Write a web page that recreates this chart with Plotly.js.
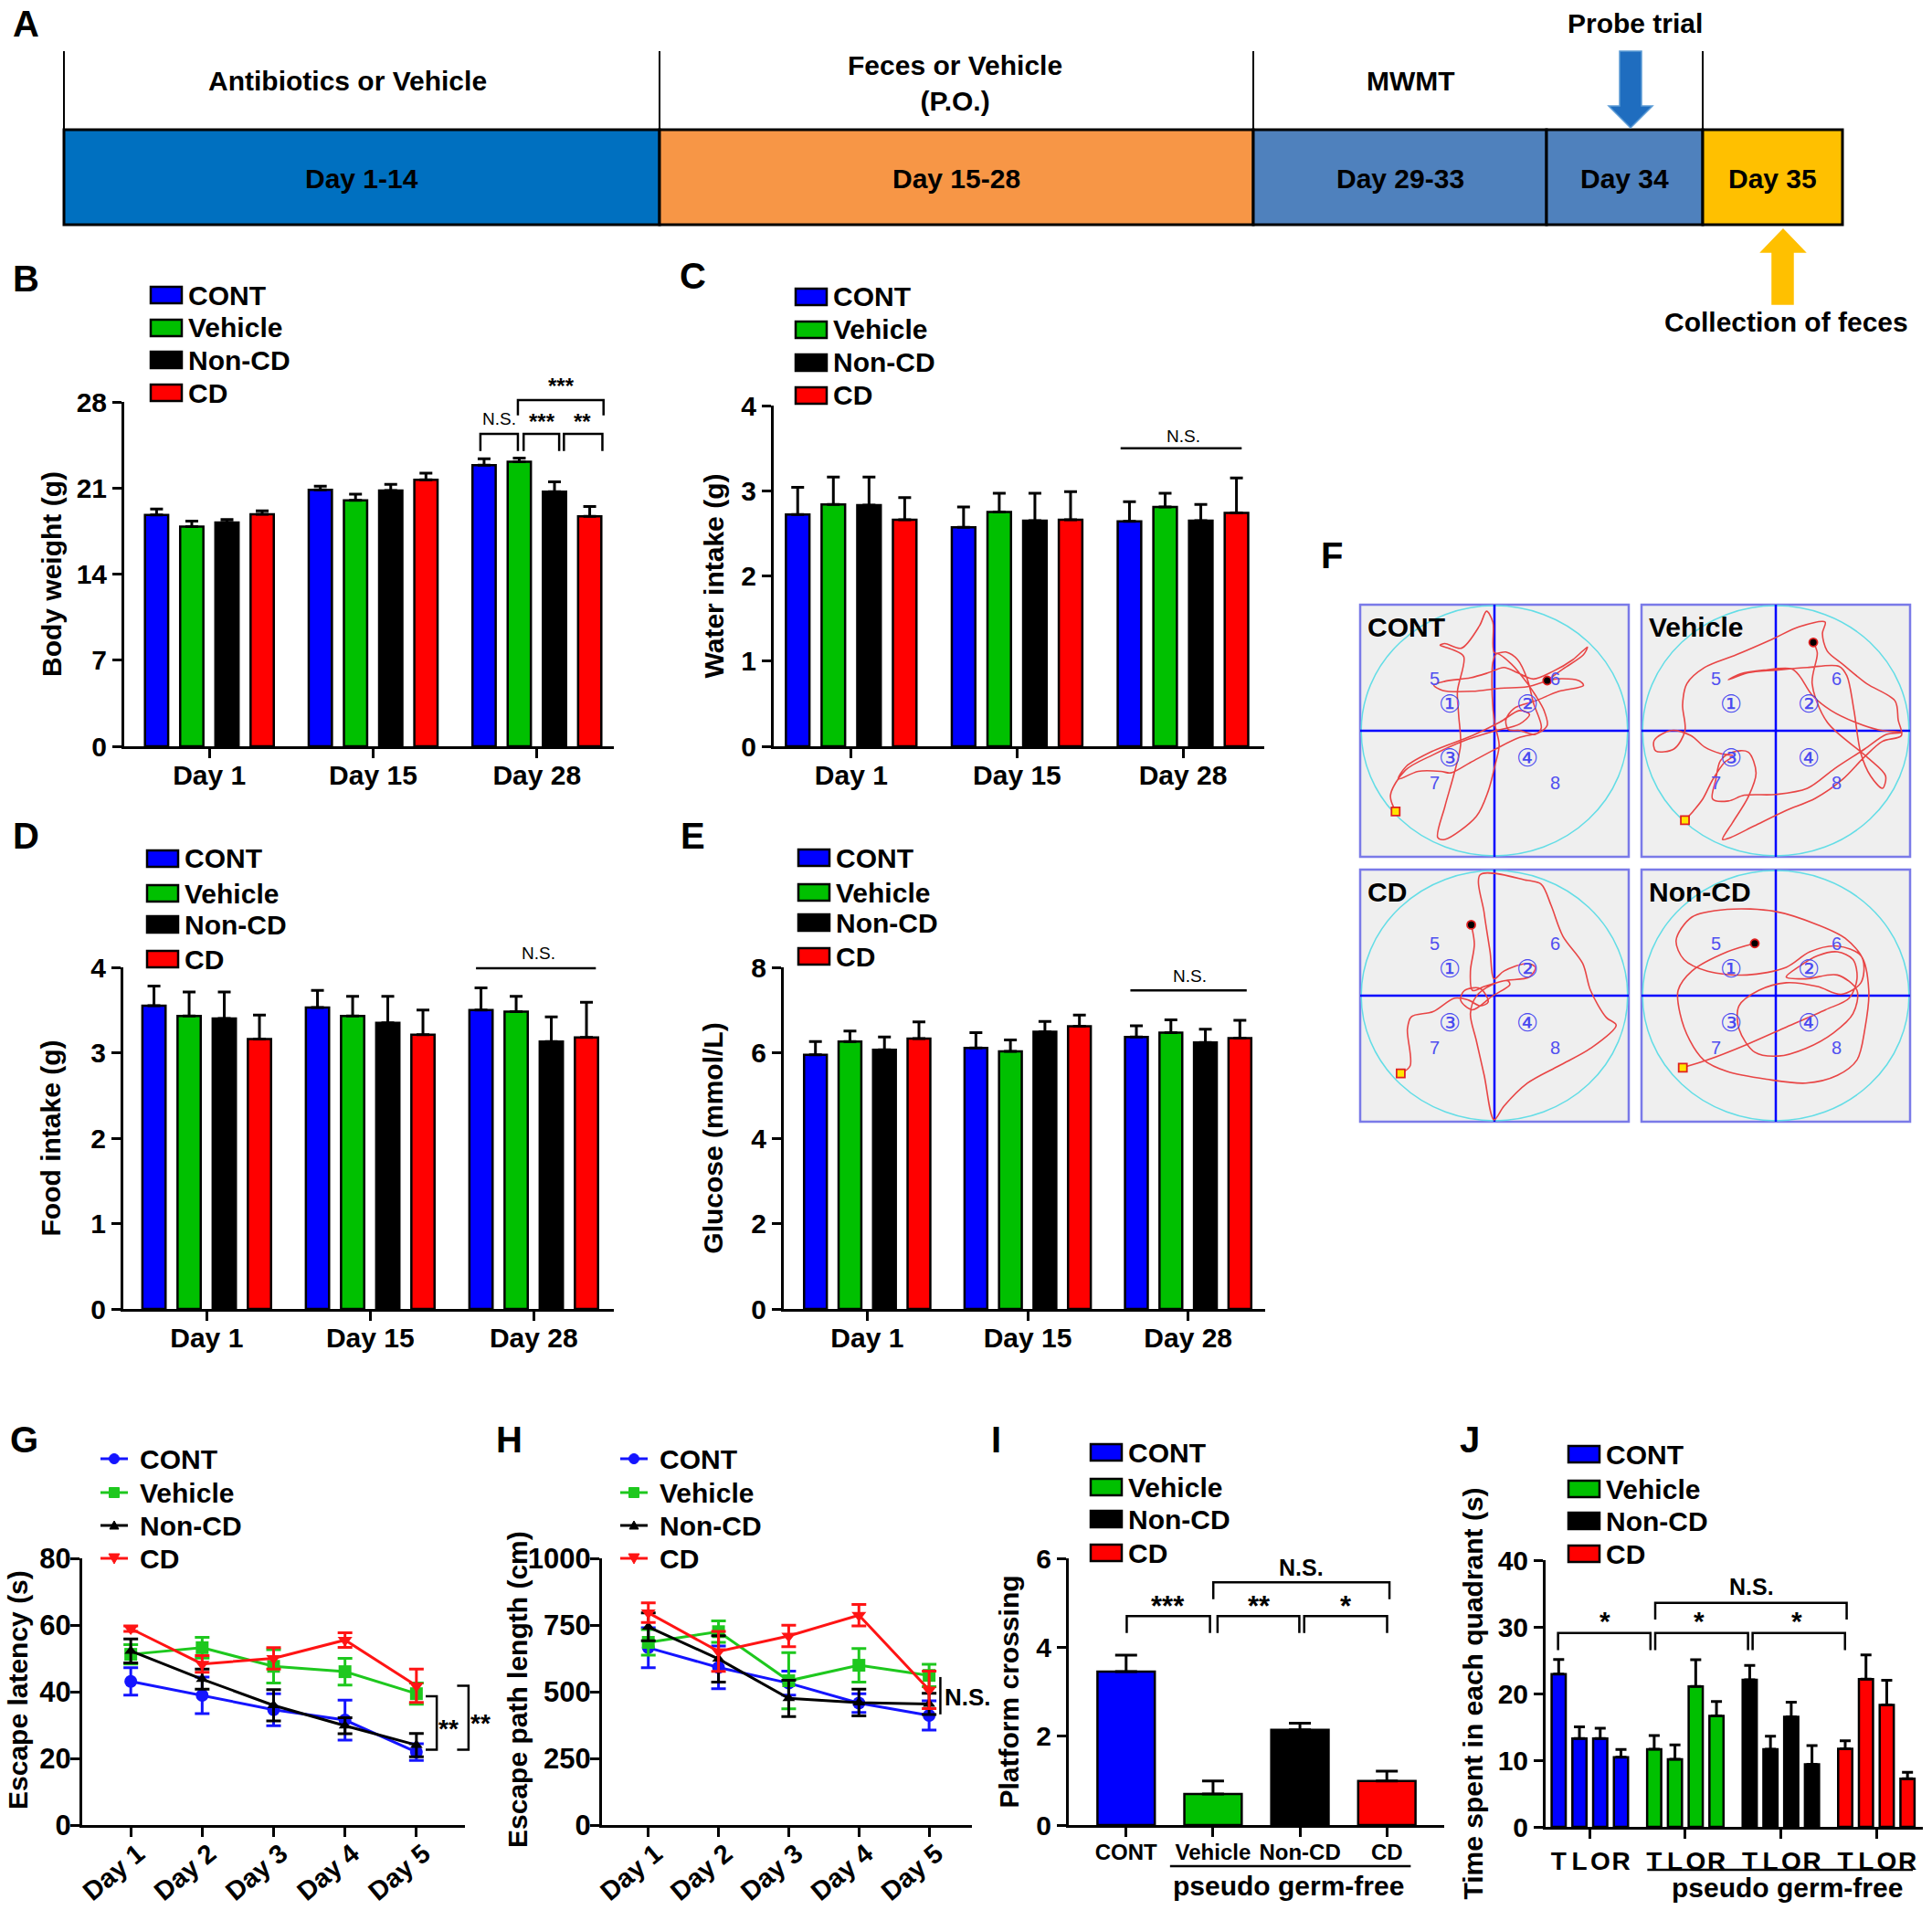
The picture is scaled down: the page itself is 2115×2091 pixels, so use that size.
<!DOCTYPE html>
<html><head><meta charset="utf-8">
<script src="https://cdn.plot.ly/plotly-3.0.1.min.js"></script>
<style>html,body{margin:0;padding:0;background:#fff}#chart{width:2115px;height:2091px}</style>
</head><body><div id="chart"></div>
<script>
// ---------------- DATA ----------------
const groups = ['CONT', 'Vehicle', 'Non-CD', 'CD'];
const days3 = ['Day 1', 'Day 15', 'Day 28'];
const days5 = ['Day 1', 'Day 2', 'Day 3', 'Day 4', 'Day 5'];
const quadrants = ['T', 'L', 'O', 'R'];

// B: body weight (g)
const bwCONT = [18.8, 20.86, 22.86],   bwCONTerr = [0.5, 0.29, 0.52];
const bwVehicle = [17.86, 20.0, 23.14], bwVehicleerr = [0.44, 0.49, 0.29];
const bwNonCD = [18.2, 20.8, 20.7],    bwNonCDerr = [0.23, 0.49, 0.8];
const bwCD = [18.86, 21.66, 18.7],     bwCDerr = [0.29, 0.54, 0.8];
// C: water intake (g)
const wiCONT = [2.72, 2.57, 2.64],    wiCONTerr = [0.32, 0.24, 0.23];
const wiVehicle = [2.84, 2.75, 2.81], wiVehicleerr = [0.32, 0.22, 0.16];
const wiNonCD = [2.83, 2.65, 2.65],   wiNonCDerr = [0.33, 0.32, 0.19];
const wiCD = [2.66, 2.66, 2.74],      wiCDerr = [0.26, 0.33, 0.41];
// D: food intake (g)
const fiCONT = [3.55, 3.53, 3.50],    fiCONTerr = [0.23, 0.20, 0.26];
const fiVehicle = [3.43, 3.43, 3.48], fiVehicleerr = [0.28, 0.23, 0.18];
const fiNonCD = [3.40, 3.35, 3.13],   fiNonCDerr = [0.31, 0.31, 0.29];
const fiCD = [3.16, 3.21, 3.18],      fiCDerr = [0.28, 0.29, 0.41];
// E: glucose (mmol/L)
const glCONT = [5.95, 6.11, 6.37],    glCONTerr = [0.31, 0.36, 0.26];
const glVehicle = [6.26, 6.03, 6.47], glVehicleerr = [0.25, 0.27, 0.30];
const glNonCD = [6.07, 6.49, 6.24],   glNonCDerr = [0.30, 0.24, 0.31];
const glCD = [6.33, 6.62, 6.34],      glCDerr = [0.39, 0.26, 0.42];
// G: escape latency (s)
const elCONT = [43.1, 38.9, 34.6, 31.5, 21.9],    elCONTerr = [4.1, 5.5, 4.8, 6.0, 2.5];
const elVehicle = [51.2, 53.2, 47.6, 46.0, 39.4], elVehicleerr = [2.9, 3.1, 5.0, 4.0, 3.2];
const elNonCD = [52.2, 43.75, 35.9, 29.8, 24.0],  elNonCDerr = [3.6, 3.0, 4.7, 2.4, 3.5];
const elCD = [58.9, 48.3, 50.0, 55.5, 41.8],      elCDerr = [0.8, 2.5, 3.2, 2.2, 5.0];
// H: escape path length (cm)
const plCONT = [665, 591, 532, 457, 411],    plCONTerr = [75, 80, 45, 35, 55];
const plVehicle = [685, 725, 541, 599, 561], plVehicleerr = [48, 40, 105, 63, 42];
const plNonCD = [743, 623, 475, 459, 454],   plNonCDerr = [52, 87, 68, 50, 40];
const plCD = [796, 651, 709, 787, 507],      plCDerr = [37, 75, 40, 40, 70];
// I: platform crossing
const pcVals = [3.45, 0.70, 2.14, 0.99], pcErr = [0.37, 0.29, 0.15, 0.22];
// J: time in each quadrant (s) [T, L, O, R]
const tqCONT = [22.9, 13.25, 13.25, 10.46],   tqCONTerr = [2.2, 1.75, 1.55, 1.14];
const tqVehicle = [11.66, 10.12, 21.06, 16.63], tqVehicleerr = [2.04, 2.18, 4.0, 2.17];
const tqNonCD = [22.07, 11.66, 16.5, 9.4],    tqNonCDerr = [2.13, 1.94, 2.2, 2.8];
const tqCD = [11.7, 22.17, 18.3, 7.23],       tqCDerr = [1.2, 3.63, 3.7, 0.97];

// A: timeline text
const phaseLabels = ['Antibiotics or Vehicle', 'Feces or Vehicle<br>(P.O.)', 'MWMT'];
const stageLabels = ['Day 1-14', 'Day 15-28', 'Day 29-33', 'Day 34', 'Day 35'];

// F: swim tracks (tracking-image coordinates)
const trackCONT = [[205,732],[192,690],[230,625],[300,585],[380,548],[450,525],[520,505],[545,480],[520,470],[470,500],[400,535],[300,575],[232,615],[212,648],[262,628],[320,628],[345,632],[395,605],[455,572],[520,540],[568,528],[590,508],[582,470],[560,430],[540,400],[500,350],[462,322],[452,345],[450,420],[456,500],[468,560],[458,610],[440,680],[410,745],[330,805],[312,800],[330,720],[352,640],[370,560],[365,480],[362,420],[378,330],[350,312],[318,300],[330,296],[372,308],[418,250],[436,212],[452,240],[456,320],[485,318],[515,338],[540,390],[555,450],[575,515],[560,532],[520,522],[492,520],[485,495],[505,465],[560,445],[620,420],[682,405],[672,393],[610,388],[540,408],[470,412],[400,420],[325,418],[302,404],[330,394],[395,385],[440,372],[480,358],[515,372],[555,388],[605,368],[655,338],[692,305],[682,325],[630,362],[590,392]];
const trackVehicle = [[940,755],[962,730],[985,700],[1010,650],[1040,605],[1062,588],[1030,582],[990,565],[955,535],[905,522],[862,548],[866,575],[912,570],[940,522],[934,455],[945,400],[990,358],[1070,325],[1160,285],[1230,252],[1295,240],[1288,270],[1300,315],[1340,350],[1400,400],[1472,445],[1480,495],[1488,535],[1440,550],[1395,590],[1340,648],[1270,698],[1195,730],[1115,770],[1055,800],[1035,805],[1060,762],[1100,695],[1120,632],[1100,578],[1060,578],[1030,600],[1018,650],[1010,700],[1050,705],[1090,690],[1170,688],[1250,672],[1320,620],[1395,570],[1450,532],[1490,527],[1430,520],[1370,500],[1310,470],[1262,430],[1230,380],[1210,362],[1140,365],[1080,375],[1050,390],[1100,372],[1170,365],[1250,358],[1330,355],[1350,380],[1368,470],[1385,580],[1410,640],[1440,672],[1448,640],[1400,590],[1300,500],[1262,400],[1275,320],[1265,293]];
const trackCD = [[218,1415],[242,1395],[235,1300],[245,1268],[300,1255],[355,1220],[390,1225],[420,1240],[440,1230],[420,1195],[380,1200],[370,1225],[400,1250],[450,1215],[495,1185],[490,1175],[450,1185],[410,1215],[395,1260],[410,1330],[430,1420],[455,1535],[480,1500],[540,1440],[620,1395],[700,1350],[765,1290],[740,1270],[700,1200],[680,1130],[630,1060],[600,980],[575,925],[540,915],[420,900],[430,1000],[445,1100],[455,1170],[480,1150],[540,1130],[560,1140],[545,1165],[480,1175],[430,1190],[400,1200],[395,1150],[405,1080],[397,1030]];
const trackNonCD = [[937,1400],[1000,1380],[1100,1340],[1200,1295],[1300,1250],[1360,1220],[1380,1170],[1370,1120],[1330,1100],[1280,1110],[1230,1140],[1200,1165],[1250,1170],[1330,1160],[1380,1200],[1370,1260],[1320,1310],[1250,1350],[1180,1370],[1120,1360],[1080,1300],[1080,1240],[1130,1200],[1200,1180],[1280,1190],[1340,1210],[1390,1180],[1395,1120],[1350,1065],[1280,1030],[1170,995],[1050,990],[960,1010],[920,1070],[940,1120],[1000,1150],[1100,1160],[1200,1140],[1260,1100],[1330,1085],[1390,1110],[1410,1200],[1400,1300],[1380,1380],[1330,1420],[1250,1440],[1150,1430],[1050,1410],[990,1380],[955,1330],[930,1260],[925,1200],[960,1150],[1050,1100],[1120,1078]];

// ---------------- STYLE / LAYOUT ----------------
const W = 2115, H = 2091;
const FONT = 'Liberation Sans, Arial, sans-serif';
const groupColors = ['#0000ff', '#00c000', '#000000', '#ff0000'];
const lineColors = ['#1414ff', '#1ec81e', '#000000', '#ff1414'];
const symbols = ['circle', 'square', 'triangle-up', 'triangle-down'];
const px = x => x / W, py = y => 1 - y / H;
const xd = (a, b) => [a / W, b / W];
const yd = (t, b) => [1 - b / H, 1 - t / H];
const sfx = n => (n === 1 ? '' : String(n));
const frac = (v, r) => (v - r[0]) / (r[1] - r[0]);

const traces = [], shapes = [], annotations = [];
const layout = {
  width: W, height: H, margin: {l: 0, r: 0, t: 0, b: 0},
  paper_bgcolor: '#fff', plot_bgcolor: 'rgba(0,0,0,0)',
  barmode: 'group', bargap: 0.14, bargroupgap: 0.34,
  hovermode: false, showlegend: false,
  font: {family: FONT, color: '#000'},
  shapes, annotations
};

function baseAxis(extra) {
  return Object.assign({
    showline: true, linecolor: '#000', linewidth: 3, ticks: 'outside', ticklen: 10, tickwidth: 3,
    tickcolor: '#000', showgrid: false, zeroline: false, fixedrange: true, tickangle: 0,
    tickfont: {family: FONT, size: 30, color: '#000', weight: 700}
  }, extra);
}
function yTitle(text, standoff) {
  return {text, font: {family: FONT, size: 30, color: '#000', weight: 700}, standoff: standoff};
}
function bracket(n, xr, yr, x0, x1, ytop, yleg, w) {
  const s = sfx(n), a = frac(x0, xr), b = frac(x1, xr), t = frac(ytop, yr), l = frac(yleg, yr);
  shapes.push({type: 'path', xref: 'x' + s + ' domain', yref: 'y' + s + ' domain',
    path: `M${a},${l}L${a},${t}L${b},${t}L${b},${l}`, line: {color: '#000', width: w || 2.5}});
}
function vbracket(n, xr, yr, xin, xout, y0, y1, w) {
  const s = sfx(n), a = frac(xin, xr), b = frac(xout, xr), t = frac(y0, yr), l = frac(y1, yr);
  shapes.push({type: 'path', xref: 'x' + s + ' domain', yref: 'y' + s + ' domain',
    path: `M${a},${t}L${b},${t}L${b},${l}L${a},${l}`, line: {color: '#000', width: w || 2.5}});
}
function segLine(n, xr, yr, x0, y0, x1, y1, w) {
  const s = sfx(n);
  shapes.push({type: 'line', xref: 'x' + s + ' domain', yref: 'y' + s + ' domain',
    x0: frac(x0, xr), x1: frac(x1, xr), y0: frac(y0, yr), y1: frac(y1, yr), line: {color: '#000', width: w || 2.5}});
}
function note(n, xr, yr, x, y, text, size, weight, xanchor) {
  const s = sfx(n);
  annotations.push({xref: 'x' + s + ' domain', yref: 'y' + s + ' domain', x: frac(x, xr), y: frac(y, yr),
    text, showarrow: false, xanchor: xanchor || 'center', yanchor: 'middle',
    font: {family: FONT, size: size, color: '#000', weight: weight || 700}});
}
function paperText(x, y, text, size, weight, xanchor, angle) {
  annotations.push({xref: 'paper', yref: 'paper', x: px(x), y: py(y), text, showarrow: false,
    xanchor: xanchor || 'center', yanchor: 'middle', textangle: angle || 0,
    font: {family: FONT, size, color: '#000', weight: weight || 700}});
}
function swatchLegend(x0, rows) {
  groups.forEach((g, k) => {
    shapes.push({type: 'rect', xref: 'paper', yref: 'paper', x0: px(x0), x1: px(x0 + 34),
      y0: py(rows[k] + 9), y1: py(rows[k] - 9), fillcolor: groupColors[k], line: {color: '#000', width: 2.5}});
    paperText(x0 + 39, rows[k], g, 30, 700, 'left');
  });
}
function lineLegend(x0, rows) {
  groups.forEach((g, k) => {
    const y = rows[k], cx = x0 + 15, c = lineColors[k], r = 5.5;
    shapes.push({type: 'line', xref: 'paper', yref: 'paper', x0: px(x0), x1: px(x0 + 30), y0: py(y), y1: py(y),
      line: {color: c, width: 3}});
    let mk;
    if (k === 0) mk = {type: 'circle', x0: px(cx - r), x1: px(cx + r), y0: py(y + r), y1: py(y - r)};
    else if (k === 1) mk = {type: 'rect', x0: px(cx - r), x1: px(cx + r), y0: py(y + r), y1: py(y - r)};
    else if (k === 2) mk = {type: 'path', path: `M${px(cx - 5)},${py(y + 4)}L${px(cx + 5)},${py(y + 4)}L${px(cx)},${py(y - 5)}Z`};
    else mk = {type: 'path', path: `M${px(cx - 6)},${py(y - 5)}L${px(cx + 6)},${py(y - 5)}L${px(cx)},${py(y + 6)}Z`};
    shapes.push(Object.assign({xref: 'paper', yref: 'paper', fillcolor: c, line: {color: c, width: 1}}, mk));
    paperText(x0 + 41, y, g, 30, 700, 'left');
  });
}

// ---------------- PANEL A: timeline ----------------
(function () {
  const edges = [70, 722, 1372, 1693, 1864, 2017];
  const fills = ['#0070c0', '#f79646', '#4f81bd', '#4f81bd', '#ffc000'];
  const top = 142, bot = 246;
  stageLabels.forEach((lab, i) => {
    shapes.push({type: 'rect', xref: 'paper', yref: 'paper', x0: px(edges[i]), x1: px(edges[i + 1]),
      y0: py(bot), y1: py(top), fillcolor: fills[i], line: {color: '#000', width: 3}});
    paperText((edges[i] + edges[i + 1]) / 2, 195, lab, 30, 700);
  });
  [70, 722, 1372, 1864].forEach(x => shapes.push({type: 'line', xref: 'paper', yref: 'paper',
    x0: px(x), x1: px(x), y0: py(56), y1: py(top), line: {color: '#000', width: 2}}));
  paperText(380, 88, phaseLabels[0], 30, 700);
  paperText(1045, 91, phaseLabels[1], 30, 700);
  paperText(1544, 88, phaseLabels[2], 30, 700);
  paperText(1790, 25, 'Probe trial', 30, 700);
  paperText(1955, 352, 'Collection of feces', 30, 700);
  const arrow = (pts, fill, edge) => shapes.push({type: 'path', xref: 'paper', yref: 'paper',
    path: 'M' + pts.map(p => px(p[0]) + ',' + py(p[1])).join('L') + 'Z', fillcolor: fill, line: {color: edge, width: 1.5}});
  arrow([[1773, 56], [1797, 56], [1797, 116], [1809, 116], [1785, 140], [1761, 116], [1773, 116]], '#1f6dbf', '#5b9bd5');
  arrow([[1940, 333], [1963, 333], [1963, 276], [1976, 276], [1952, 251], [1928, 276], [1940, 276]], '#ffc000', '#ffc000');
})();

// ---------------- PANEL LETTERS ----------------
[['A', 28, 26], ['B', 28, 305], ['C', 758, 302], ['D', 28, 915], ['E', 758, 915], ['F', 1458, 608],
 ['G', 26, 1576], ['H', 557, 1576], ['I', 1090, 1576], ['J', 1609, 1576]].forEach(l => paperText(l[1], l[2], l[0], 40, 700));

// ---------------- PANELS B-E: grouped bars ----------------
const barPanels = [
  {n: 1, xr: [-0.52, 2.47], xpx: [136, 672], ypx: [440, 817], ymax: 28, dtick: 7, title: 'Body weight (g)', so: 8,
   vals: [bwCONT, bwVehicle, bwNonCD, bwCD], errs: [bwCONTerr, bwVehicleerr, bwNonCDerr, bwCDerr], lx: 165, rows: [323, 359, 394, 430]},
  {n: 2, xr: [-0.467, 2.49], xpx: [847, 1384], ypx: [444, 817], ymax: 4, dtick: 1, title: 'Water intake (g)', so: 10,
   vals: [wiCONT, wiVehicle, wiNonCD, wiCD], errs: [wiCONTerr, wiVehicleerr, wiNonCDerr, wiCDerr], lx: 871, rows: [325, 361, 397, 433]},
  {n: 3, xr: [-0.51, 2.49], xpx: [135, 672], ypx: [1059, 1433], ymax: 4, dtick: 1, title: 'Food intake (g)', so: 24,
   vals: [fiCONT, fiVehicle, fiNonCD, fiCD], errs: [fiCONTerr, fiVehicleerr, fiNonCDerr, fiCDerr], lx: 161, rows: [940, 978, 1012, 1050]},
  {n: 4, xr: [-0.52, 2.48], xpx: [858, 1385], ypx: [1059, 1433], ymax: 8, dtick: 2, title: 'Glucose (mmol/L)', so: 22,
   vals: [glCONT, glVehicle, glNonCD, glCD], errs: [glCONTerr, glVehicleerr, glNonCDerr, glCDerr], lx: 874, rows: [939, 977, 1010, 1047]}
];
barPanels.forEach(p => {
  const s = sfx(p.n);
  groups.forEach((g, k) => traces.push({
    type: 'bar', name: g, x: days3, y: p.vals[k], xaxis: 'x' + s, yaxis: 'y' + s, showlegend: false,
    marker: {color: groupColors[k], line: {color: '#000', width: 2.5}},
    error_y: {type: 'data', array: p.errs[k], arrayminus: p.errs[k].map(() => 0), symmetric: false,
      color: '#000', thickness: 3, width: 7}
  }));
  const tv = []; for (let v = 0; v <= p.ymax; v += p.dtick) tv.push(v);
  layout['xaxis' + s] = baseAxis({type: 'category', domain: xd(p.xpx[0], p.xpx[1]), range: p.xr, anchor: 'y' + s,
    ticklabelstandoff: -7});
  layout['yaxis' + s] = baseAxis({domain: yd(p.ypx[0], p.ypx[1]), range: [0, p.ymax], tickvals: tv, anchor: 'x' + s,
    title: yTitle(p.title, p.so)});
  swatchLegend(p.lx, p.rows);
});
// significance marks
(function () {
  const b = barPanels[0], yr = [0, 28];
  bracket(1, b.xr, yr, 2 - 0.345, 2 - 0.116, 25.4, 24.0);
  bracket(1, b.xr, yr, 2 - 0.081, 2 + 0.136, 25.4, 24.0);
  bracket(1, b.xr, yr, 2 + 0.165, 2 + 0.40, 25.4, 24.0);
  bracket(1, b.xr, yr, 2 - 0.116, 2 + 0.407, 28.14, 26.9);
  note(1, b.xr, yr, 2 - 0.23, 26.6, 'N.S.', 19, 400);
  note(1, b.xr, yr, 2 + 0.03, 26.4, '***', 24, 700);
  note(1, b.xr, yr, 2 + 0.28, 26.4, '**', 24, 700);
  note(1, b.xr, yr, 2 + 0.15, 29.3, '***', 24, 700);
  const c = barPanels[1];
  segLine(2, c.xr, [0, 4], 2 - 0.376, 3.5, 2 + 0.354, 3.5);
  note(2, c.xr, [0, 4], 2.0, 3.64, 'N.S.', 19, 400);
  const d = barPanels[2];
  segLine(3, d.xr, [0, 4], 2 - 0.353, 3.99, 2 + 0.38, 3.99);
  note(3, d.xr, [0, 4], 2.03, 4.17, 'N.S.', 19, 400);
  const e = barPanels[3];
  segLine(4, e.xr, [0, 8], 2 - 0.36, 7.46, 2 + 0.365, 7.46);
  note(4, e.xr, [0, 8], 2.01, 7.8, 'N.S.', 19, 400);
})();

// ---------------- PANELS G, H: lines ----------------
const linePanels = [
  {n: 5, xr: [-0.68, 4.68], xpx: [90, 509], ypx: [1706, 1998], yr: [0, 80], tv: [0, 20, 40, 60, 80],
   title: 'Escape latency (s)', tx: 19, vals: [elCONT, elVehicle, elNonCD, elCD], errs: [elCONTerr, elVehicleerr, elNonCDerr, elCDerr], lx: 110},
  {n: 6, xr: [-0.66, 4.61], xpx: [659, 1064], ypx: [1706, 1998], yr: [0, 1000], tv: [0, 250, 500, 750, 1000],
   title: 'Escape path length (cm)', tx: 566, vals: [plCONT, plVehicle, plNonCD, plCD], errs: [plCONTerr, plVehicleerr, plNonCDerr, plCDerr], lx: 679}
];
linePanels.forEach(p => {
  const s = sfx(p.n);
  groups.forEach((g, k) => traces.push({
    type: 'scatter', mode: 'lines+markers', name: g, x: days5, y: p.vals[k], xaxis: 'x' + s, yaxis: 'y' + s,
    showlegend: false, line: {color: lineColors[k], width: 3},
    marker: {symbol: symbols[k], size: k === 2 ? 12 : 14, color: lineColors[k]},
    error_y: {type: 'data', array: p.errs[k], color: lineColors[k], thickness: 3, width: 8}
  }));
  layout['xaxis' + s] = baseAxis({type: 'category', domain: xd(p.xpx[0], p.xpx[1]), range: p.xr, anchor: 'y' + s,
    tickangle: -40, ticklabelstandoff: -10, ticklabelshift: 8,
    tickfont: {family: FONT, size: 29, color: '#000', weight: 700}});
  layout['yaxis' + s] = baseAxis({domain: yd(p.ypx[0], p.ypx[1]), range: p.yr, tickvals: p.tv, anchor: 'x' + s,
    ticklabelstandoff: -7, tickfont: {family: FONT, size: 31, color: '#000', weight: 700}});
  paperText(p.tx, 1850, p.title, 30, 700, 'center', -90);
  lineLegend(p.lx, [1597, 1634, 1670, 1706]);
});
(function () {
  const g = linePanels[0];
  vbracket(5, g.xr, g.yr, 4.13, 4.285, 38.65, 22.6);
  note(5, g.xr, g.yr, 4.45, 28.8, '**', 28, 700);
  vbracket(5, g.xr, g.yr, 4.57, 4.73, 41.8, 22.6);
  note(5, g.xr, g.yr, 4.90, 30.5, '**', 28, 700);
  const h = linePanels[1];
  segLine(6, h.xr, h.yr, 4.16, 415, 4.16, 555);
  note(6, h.xr, h.yr, 4.2, 478, 'N.S.', 26, 700, 'left');
})();

// ---------------- PANEL I ----------------
(function () {
  const n = 7, s = sfx(n), xr = [-0.66, 3.66], yr = [0, 6];
  traces.push({type: 'bar', x: groups, y: pcVals, xaxis: 'x' + s, yaxis: 'y' + s, showlegend: false,
    width: 0.66, offset: -0.33, marker: {color: groupColors, line: {color: '#000', width: 2.5}},
    error_y: {type: 'data', array: pcErr, arrayminus: pcErr.map(() => 0), symmetric: false, color: '#000', thickness: 3, width: 12}});
  layout['xaxis' + s] = baseAxis({type: 'category', domain: xd(1170, 1581), range: xr, anchor: 'y' + s,
    ticklabelstandoff: -4, tickfont: {family: FONT, size: 24, color: '#000', weight: 700}});
  layout['yaxis' + s] = baseAxis({domain: yd(1706, 1998), range: yr, tickvals: [0, 2, 4, 6], anchor: 'x' + s,
    title: yTitle('Platform crossing', 10)});
  swatchLegend(1194, [1590, 1628, 1663, 1700]);
  bracket(n, xr, yr, 0.007, 0.965, 4.70, 4.32);
  bracket(n, xr, yr, 1.052, 1.993, 4.70, 4.32);
  bracket(n, xr, yr, 2.049, 3.003, 4.70, 4.32);
  bracket(n, xr, yr, 1.003, 3.03, 5.46, 5.08);
  note(n, xr, yr, 0.48, 4.93, '***', 31, 700);
  note(n, xr, yr, 1.53, 4.93, '**', 31, 700);
  note(n, xr, yr, 2.53, 4.93, '*', 31, 700);
  note(n, xr, yr, 2.02, 5.8, 'N.S.', 25, 700);
  shapes.push({type: 'line', xref: 'x' + s + ' domain', yref: 'paper', x0: frac(0.505, xr), x1: frac(3.275, xr),
    y0: py(2043), y1: py(2043), line: {color: '#000', width: 2.5}});
  annotations.push({xref: 'x' + s + ' domain', yref: 'paper', x: frac(1.864, xr), y: py(2064), text: 'pseudo germ-free',
    showarrow: false, xanchor: 'center', yanchor: 'middle', font: {family: FONT, size: 30, color: '#000', weight: 700}});
})();

// ---------------- PANEL J ----------------
(function () {
  const n = 8, s = sfx(n), xr = [-0.63, 17.54], yr = [0, 40], spacing = 4.6;
  const vals = [tqCONT, tqVehicle, tqNonCD, tqCD], errs = [tqCONTerr, tqVehicleerr, tqNonCDerr, tqCDerr];
  const tickv = [], tickt = [], minor = [];
  groups.forEach((g, k) => {
    const xs = quadrants.map((q, qi) => k * spacing + qi);
    xs.forEach((x, qi) => { tickv.push(x); tickt.push(quadrants[qi]); });
    minor.push(k * spacing + 1.5);
    traces.push({type: 'bar', name: g, x: xs, y: vals[k], xaxis: 'x' + s, yaxis: 'y' + s, showlegend: false,
      width: 0.68, offset: -0.34, marker: {color: groupColors[k], line: {color: '#000', width: 2.5}},
      error_y: {type: 'data', array: errs[k], arrayminus: errs[k].map(() => 0), symmetric: false, color: '#000', thickness: 3, width: 6}});
  });
  layout['xaxis' + s] = baseAxis({domain: xd(1692, 2105), range: xr, anchor: 'y' + s, tickvals: tickv, ticktext: tickt,
    tickcolor: 'rgba(0,0,0,0)', ticklen: 10, tickfont: {family: FONT, size: 28, color: '#000', weight: 700},
    minor: {tickvals: minor, ticks: 'outside', ticklen: 10, tickwidth: 3, tickcolor: '#000', showgrid: false}});
  layout['yaxis' + s] = baseAxis({domain: yd(1708, 2000), range: yr, tickvals: [0, 10, 20, 30, 40], anchor: 'x' + s,
    title: yTitle('Time spent in each quadrant (s)', 8)});
  swatchLegend(1717, [1592, 1630, 1665, 1701]);
  bracket(n, xr, yr, -0.03, 4.42, 29.06, 26.5);
  bracket(n, xr, yr, 4.65, 9.12, 29.06, 26.5);
  bracket(n, xr, yr, 9.34, 13.79, 29.06, 26.5);
  bracket(n, xr, yr, 4.65, 13.87, 33.6, 31.1);
  note(n, xr, yr, 2.25, 30.9, '*', 30, 700);
  note(n, xr, yr, 6.78, 30.9, '*', 30, 700);
  note(n, xr, yr, 11.47, 30.9, '*', 30, 700);
  note(n, xr, yr, 9.3, 36.0, 'N.S.', 25, 700);
  shapes.push({type: 'line', xref: 'x' + s + ' domain', yref: 'paper', x0: frac(4.27, xr), x1: frac(17.06, xr),
    y0: py(2047), y1: py(2047), line: {color: '#000', width: 2.5}});
  annotations.push({xref: 'x' + s + ' domain', yref: 'paper', x: frac(11.0, xr), y: py(2066), text: 'pseudo germ-free',
    showarrow: false, xanchor: 'center', yanchor: 'middle', font: {family: FONT, size: 30, color: '#000', weight: 700}});
})();

// ---------------- PANEL F: swim tracks ----------------
const fPanels = [
  {n: 9, name: 'CONT', track: trackCONT, xpx: [1489, 1783], ypx: [662, 938], xr: [115, 797], yr: [850, 195]},
  {n: 10, name: 'Vehicle', track: trackVehicle, xpx: [1797, 2091], ypx: [662, 938], xr: [830, 1510], yr: [850, 195]},
  {n: 11, name: 'CD', track: trackCD, xpx: [1489, 1783], ypx: [952, 1228], xr: [115, 797], yr: [1540, 887]},
  {n: 12, name: 'Non-CD', track: trackNonCD, xpx: [1797, 2091], ypx: [952, 1228], xr: [832, 1515], yr: [1540, 887]}
];
fPanels.forEach(p => {
  const s = String(p.n), xref = 'x' + s + ' domain', yref = 'y' + s + ' domain';
  layout['xaxis' + s] = {domain: xd(p.xpx[0], p.xpx[1]), range: p.xr, visible: false, fixedrange: true, anchor: 'y' + s};
  layout['yaxis' + s] = {domain: yd(p.ypx[0], p.ypx[1]), range: p.yr, visible: false, fixedrange: true, anchor: 'x' + s};
  shapes.push({type: 'rect', xref, yref, x0: 0, x1: 1, y0: 0, y1: 1, fillcolor: '#efefef', line: {color: '#7a7ae8', width: 2.5}, layer: 'below'});
  shapes.push({type: 'circle', xref, yref, x0: 0.004, x1: 0.996, y0: 0.004, y1: 0.996, line: {color: '#63dde6', width: 1.5}, layer: 'below'});
  shapes.push({type: 'line', xref, yref, x0: 0.5, x1: 0.5, y0: 0, y1: 1, line: {color: '#0000ff', width: 2.5}, layer: 'below'});
  shapes.push({type: 'line', xref, yref, x0: 0, x1: 1, y0: 0.5, y1: 0.5, line: {color: '#0000ff', width: 2.5}, layer: 'below'});
  [['5', 0.25, 0.755], ['6', 0.75, 0.755], ['7', 0.25, 0.245], ['8', 0.75, 0.245]].forEach(t =>
    annotations.push({xref, yref, x: t[1], y: t[2], text: t[0], showarrow: false, font: {family: FONT, size: 20, color: '#5050f0'}}));
  [['\u2460', 0.335, 0.67], ['\u2461', 0.67, 0.67], ['\u2462', 0.335, 0.33], ['\u2463', 0.67, 0.33]].forEach(t =>
    annotations.push({xref, yref, x: t[1], y: t[2], text: t[0], showarrow: false, font: {family: 'DejaVu Sans, sans-serif', size: 27, color: '#4a4af0'}}));
  annotations.push({xref, yref, x: 0.02, y: 0.91, text: p.name, showarrow: false, xanchor: 'left', yanchor: 'middle',
    font: {family: FONT, size: 30, color: '#000', weight: 700}});
  const tx = p.track.map(q => q[0]), ty = p.track.map(q => q[1]);
  traces.push({type: 'scatter', mode: 'lines', x: tx, y: ty, xaxis: 'x' + s, yaxis: 'y' + s, showlegend: false,
    line: {color: '#e84545', width: 1.6, shape: 'spline', smoothing: 0.9}});
  traces.push({type: 'scatter', mode: 'markers', x: [tx[0]], y: [ty[0]], xaxis: 'x' + s, yaxis: 'y' + s, showlegend: false,
    marker: {symbol: 'square', size: 9, color: '#ffe600', line: {color: '#e02020', width: 1.8}}});
  traces.push({type: 'scatter', mode: 'markers', x: [tx[tx.length - 1]], y: [ty[ty.length - 1]], xaxis: 'x' + s, yaxis: 'y' + s, showlegend: false,
    marker: {symbol: 'circle', size: 9, color: '#000', line: {color: '#e02020', width: 1.8}}});
});

Plotly.newPlot('chart', traces, layout, {staticPlot: true, displayModeBar: false});
</script></body></html>
